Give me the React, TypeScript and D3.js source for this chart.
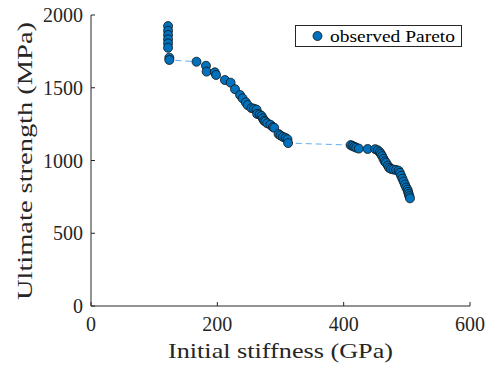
import React from "react";
import * as d3 from "d3";

const stiffness = [
  122, 122, 122, 122, 122, 122, 124, 124,
  167, 182, 183, 196, 198, 212, 221, 228, 236, 240, 245, 248, 254, 258, 262, 263, 267, 270, 272, 274, 276, 279, 284, 288, 290, 297, 300, 304, 308, 311, 312,
  411, 414, 417, 420, 424, 438, 450, 454, 457, 459, 461, 463, 465, 467, 470, 472, 475, 479, 483, 487, 489, 491, 493, 495, 497, 499, 501, 502, 503, 504, 505,
];
const strength = [
  1924, 1892, 1863, 1833, 1805, 1775, 1707, 1691,
  1679, 1651, 1611, 1606, 1588, 1553, 1535, 1490, 1450, 1427, 1400, 1381, 1360, 1356, 1350, 1320, 1316, 1306, 1290, 1274, 1268, 1256, 1246, 1230, 1225, 1182, 1172, 1162, 1155, 1146, 1120,
  1106, 1100, 1094, 1088, 1082, 1079, 1078, 1070, 1058, 1045, 1030, 1012, 995, 985, 965, 950, 942, 938, 935, 930, 915, 895, 875, 855, 835, 815, 800, 785, 770, 755, 740,
];
const xTicks = [0, 200, 400, 600];
const yTicks = [0, 500, 1000, 1500, 2000];
const xLabel = "Initial stiffness (GPa)";
const yLabel = "Ultimate strength (MPa)";
const legendLabel = "observed Pareto";

const W = 489;
const H = 372;
const left = 91, right = 470, top = 15, bottom = 306;
const font = "'Liberation Serif', 'DejaVu Serif', serif";
const ink = "#262626";

export default function App() {
  const x = d3.scaleLinear().domain([0, 600]).range([left, right]);
  const y = d3.scaleLinear().domain([0, 2000]).range([bottom, top]);
  const pts = stiffness.map((s, i) => [s, strength[i]] as [number, number]);
  const line = d3.line<[number, number]>().x((d) => x(d[0])).y((d) => y(d[1]));
  return (
    <svg width={W} height={H} style={{ position: "absolute", left: 0, top: 0, background: "#fff" }}>
      <rect x={0} y={0} width={W} height={H} fill="#fff" />
      <path d={line(pts) || ""} fill="none" stroke="#62aef0" strokeWidth={1} strokeDasharray="6,4" />
      {pts.map((d, i) => (
        <circle key={i} cx={x(d[0])} cy={y(d[1])} r={4.5} fill="#0072BD" stroke="#111" strokeWidth={0.8} />
      ))}
      <line x1={left} x2={right} y1={bottom} y2={bottom} stroke={ink} strokeWidth={1} />
      <line x1={left} x2={left} y1={top} y2={bottom} stroke={ink} strokeWidth={1} />
      {xTicks.map((t) => (
        <g key={"x" + t}>
          <line x1={x(t)} x2={x(t)} y1={bottom} y2={bottom - 4} stroke={ink} />
          <text x={x(t)} y={331} textAnchor="middle" fontFamily={font} fontSize={20} fill={ink}>{t}</text>
        </g>
      ))}
      {yTicks.map((t) => (
        <g key={"y" + t}>
          <line x1={left} x2={left + 4} y1={y(t)} y2={y(t)} stroke={ink} />
          <text x={left - 8} y={y(t) + 7} textAnchor="end" fontFamily={font} fontSize={20} fill={ink}>{t}</text>
        </g>
      ))}
      <text x={(left + right) / 2} y={358} textAnchor="middle" fontFamily={font} fontSize={22} fill={ink}
        textLength={225} lengthAdjust="spacingAndGlyphs">{xLabel}</text>
      <text transform={`translate(32,${161}) rotate(-90)`} textAnchor="middle" fontFamily={font} fontSize={22} fill={ink}
        textLength={278} lengthAdjust="spacingAndGlyphs">{yLabel}</text>
      <rect x={295.5} y={25.5} width={166} height={21} fill="#fff" stroke={ink} strokeWidth={1} />
      <circle cx={317.5} cy={36} r={4.5} fill="#0072BD" stroke="#111" strokeWidth={0.8} />
      <text x={330} y={41.5} fontFamily={font} fontSize={16.5} fill="#000"
        textLength={125} lengthAdjust="spacingAndGlyphs">{legendLabel}</text>
    </svg>
  );
}
